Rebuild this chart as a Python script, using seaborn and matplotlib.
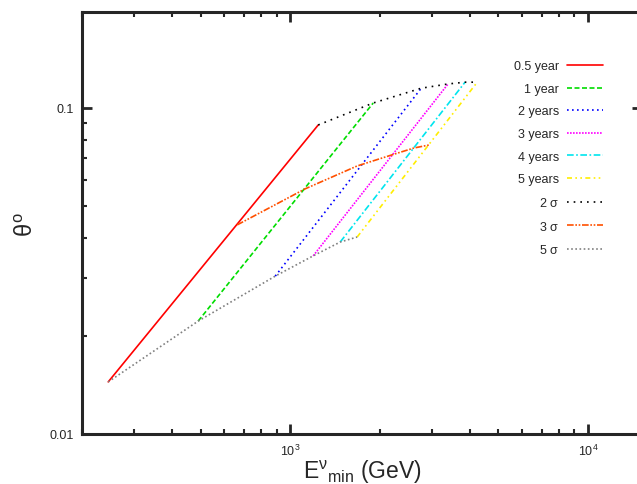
import matplotlib
matplotlib.use("Agg")
import matplotlib.pyplot as plt
import matplotlib.ticker as mticker
import seaborn as sns

# year curves: (E_min start, theta start) -> (E_min end, theta end)
e_half = [245, 1242]
t_half = [0.01445, 0.0887]
e_1yr = [491, 1900]
t_1yr = [0.0222, 0.1036]
e_2yr = [891, 2754]
t_2yr = [0.0305, 0.115]
e_3yr = [1195, 3388]
t_3yr = [0.0352, 0.1185]
e_4yr = [1472, 3865]
t_4yr = [0.0388, 0.120]
e_5yr = [1678, 4246]
t_5yr = [0.0402, 0.120]

# significance contours
e_2sig = [1242, 1900, 2754, 3388, 3865, 4246]
t_2sig = [0.0887, 0.1036, 0.115, 0.1185, 0.120, 0.120]
e_3sig = [664, 1123, 1678, 2302, 2607, 2925]
t_3sig = [0.0438, 0.0565, 0.0664, 0.0728, 0.0754, 0.0770]
e_5sig = [245, 491, 891, 1195, 1472, 1678]
t_5sig = [0.01445, 0.0222, 0.0305, 0.0352, 0.0388, 0.0402]

sns.set_style("ticks")
plt.rcParams['font.family'] = ['Liberation Sans', 'DejaVu Sans']
plt.rcParams['mathtext.fontset'] = 'custom'
plt.rcParams['mathtext.rm'] = 'Liberation Sans'
plt.rcParams['mathtext.it'] = 'Liberation Sans'

fig = plt.figure(figsize=(6.37, 4.85), dpi=100)
# right spine sits just outside the canvas, as in the reference
ax = fig.add_axes([0.1287, 0.1031, 0.8791, 0.8701])
ax.set_xscale('log')
ax.set_yscale('log')

series = [
    (e_half, t_half, '0.5 year', '#ff0000', '-'),
    (e_1yr, t_1yr, '1 year', '#00dd00', (0, (3, 1.5))),
    (e_2yr, t_2yr, '2 years', '#0000ff', (0, (1, 2))),
    (e_3yr, t_3yr, '3 years', '#ff00ff', (0, (1, 0.8))),
    (e_4yr, t_4yr, '4 years', '#00e5ee', (0, (4, 1.5, 1, 1.5))),
    (e_5yr, t_5yr, '5 years', '#ffee00', (0, (3, 2, 1, 2, 1, 2))),
    (e_2sig, t_2sig, r'2 $\sigma$', '#000000', (0, (1, 3))),
    (e_3sig, t_3sig, r'3 $\sigma$', '#ff5000', (0, (4, 1, 1, 1, 1, 1))),
    (e_5sig, t_5sig, r'5 $\sigma$', '#808080', (0, (1, 1.5))),
]
for e, t, lab, col, ls in series:
    sns.lineplot(x=e, y=t, ax=ax, color=col, linestyle=ls, linewidth=1.2,
                 label=lab, sort=False)

ax.set_xlim(200, 15170)
ax.set_ylim(0.01, 0.197)

ax.yaxis.set_major_locator(mticker.FixedLocator([0.01, 0.1]))
ax.yaxis.set_major_formatter(mticker.FixedFormatter(['0.01', '0.1']))
ax.yaxis.set_minor_formatter(mticker.NullFormatter())
ax.xaxis.set_minor_formatter(mticker.NullFormatter())

for s in ax.spines.values():
    s.set_linewidth(2.2)
    s.set_visible(True)
ax.tick_params(which='both', direction='in', top=True, right=True,
               labelsize=9, pad=6)
ax.tick_params(which='major', length=7, width=2)
ax.tick_params(which='minor', length=3.5, width=1.5)

ax.set_xlabel(r'E$^{\nu}$$_{\rm min}$ (GeV)', fontsize=16.5, labelpad=0)
ax.set_ylabel(r'$\theta^{\rm o}$', fontsize=17, labelpad=8)

leg = ax.legend(loc='upper right', bbox_to_anchor=(614 / 637, 1 - 50 / 485),
                bbox_transform=fig.transFigure, frameon=False,
                markerfirst=False, fontsize=9, handlelength=2.9,
                labelspacing=0.85, handletextpad=0.6)
for txt in leg.get_texts():
    txt.set_ha('right')
leg._legend_box.align = 'right'

fig.savefig('out.png', dpi=100)
